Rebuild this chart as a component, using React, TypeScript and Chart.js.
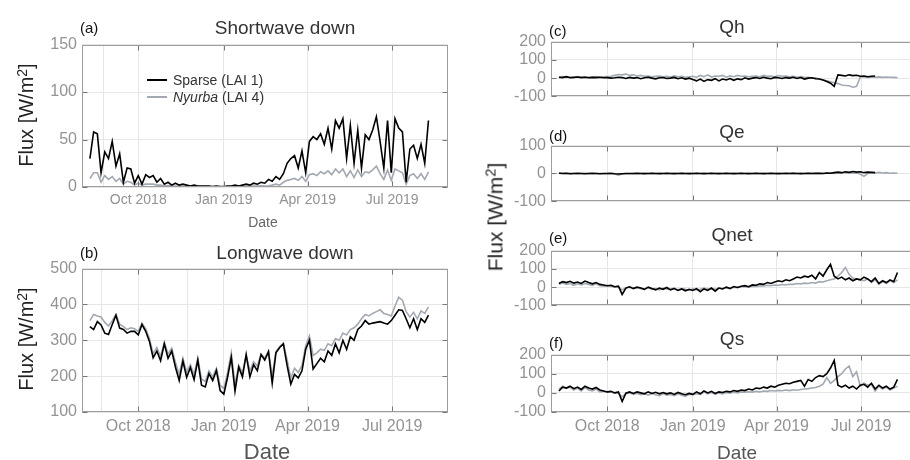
import React, { useEffect, useRef } from "react";
import { Chart, registerables } from "chart.js";
Chart.register(...registerables);

const FONT = "'Liberation Sans', Arial, Helvetica, sans-serif";

// x values: days since 2018-08-01, one value every DAY_STEP days
const FIRST_DAY = 9;
const DAY_STEP = 4;
const TICK_DAYS = [61, 153, 243, 334];
const TICK_LABELS = ["Oct 2018", "Jan 2019", "Apr 2019", "Jul 2019"];

const SW_SPARSE = [
  30, 58, 56, 15, 37, 30, 48, 22, 35, 5,
  20, 19, 4, 12, 3, 13, 10, 12, 5, 9,
  3, 5, 2, 4, 2, 3, 2, 1, 2, 1,
  1, 1, 1, 0.5, 1, 0.5, 0.5, 1, 1, 2,
  1, 2, 3, 2, 4, 3, 5, 4, 8, 6,
  11, 8, 14, 25, 30, 33, 20, 38, 15, 48,
  53, 50, 56, 45, 62, 40, 70, 62, 72, 30,
  65, 25, 60, 20, 55, 50, 60, 74, 48, 20,
  70, 15, 72, 62, 58, 5, 40, 44, 30, 45,
  25, 70,
];
const SW_NYURBA = [
  9, 15, 15, 5, 12, 8, 11, 6, 9, 3,
  6, 5, 2, 4, 2, 3, 3, 3, 2, 2,
  1, 1.5, 1, 1, 0.8, 0.8, 0.6, 0.5, 0.5, 0.5,
  0.4, 0.4, 0.3, 0.3, 0.3, 0.3, 0.3, 0.3, 0.4, 0.5,
  0.5, 0.6, 0.8, 0.8, 1, 1, 1.2, 1, 1, 2,
  3, 2, 5, 7, 8, 9, 7, 11, 6, 13,
  14, 12, 16, 14, 17, 13, 19, 15, 19, 11,
  17, 10, 18, 11, 16, 15, 18, 22, 14, 8,
  18, 7, 19, 17, 15, 3, 12, 14, 9, 14,
  8, 16,
];
const LW_SPARSE = [
  338, 330, 352, 343, 320, 316, 344, 370, 334, 330,
  320, 325, 325, 315, 344, 325, 297, 251, 270, 243,
  290, 250, 270, 225, 188, 242, 197, 224, 190, 245,
  175, 170, 207, 188, 216, 160, 150, 197, 252, 158,
  225, 198, 260, 198, 232, 215, 260, 245, 268, 180,
  265, 280, 290, 230, 178, 205, 195, 215, 275, 300,
  220, 235, 250, 240, 270, 258, 290, 265, 300, 275,
  310, 300, 330, 340, 355, 345, 348, 350, 352, 348,
  345, 355, 370, 385, 383, 360, 335, 360, 330, 360,
  350, 370,
];
const LW_NYURBA = [
  355, 372, 368, 365, 350, 340, 355, 372, 345, 338,
  330, 335, 332, 325, 348, 332, 305, 262, 280, 255,
  295, 262, 278, 238, 205, 250, 212, 232, 205, 250,
  192, 185, 215, 198, 222, 175, 165, 210, 265, 178,
  230, 210, 258, 215, 240, 228, 262, 250, 270, 200,
  268, 282, 292, 245, 195, 222, 210, 230, 285, 312,
  258, 265, 275, 272, 290, 285, 305, 300, 320, 315,
  330, 335, 345, 360, 372, 368, 375, 380, 385, 375,
  372, 368, 395, 420, 412, 380, 365, 378, 360, 382,
  375, 393,
];
const QH_SPARSE = [
  5, 3, 8, 2, 4, 6, 3, 5, 2, 4,
  3, 5, 2, 3, 0, 2, 5, 3, -2, 4,
  0, 3, -3, 2, 5, 0, -4, 2, 3, -2,
  0, 4, -3, 2, -5, 0, -8, -15, -5, -18,
  -8, -12, -3, -15, -5, -10, -2, -12, -4, -8,
  2, -5, 0, 3, -2, 5, 0, -3, 4, 2,
  -2, 3, 0, 5, -2, 3, -5, 0, 2, -3,
  -5, -10, -18, -28, -45, 18, 15, 12, 18, 14,
  16, 10, 12, 8, 10, 12, null, null, null, null,
  null, null,
];
const QH_NYURBA = [
  5, 8, 4, 6, 3, 8, 5, 7, 4, 6,
  8, 5, 7, 8, 10, 15, 20, 18, 22, 15,
  18, 12, 15, 10, 12, 8, 10, 12, 8, 10,
  6, 12, 8, 10, 5, 8, 10, 5, 15, 8,
  18, 6, 12, 10, 15, 5, 12, 8, 15, 10,
  12, 8, 10, 12, 8, 15, 10, 12, 8, 14,
  10, 12, 8, 10, 5, 8, 3, 5, 0, 2,
  -5, -10, -15, -20, -25, -30, -38, -40, -42, -50,
  -45, 5, 8, 4, 6, 5, 7, 4, 6, 5,
  4, 3,
];
const QE_SPARSE = [
  1, 0, 1, -1, 0, 1, 0, -1, 0, 1,
  0, -1, 0, 0, 1, -1, -2, -1, 0, 0,
  0, 0.5, 0, -0.5, 0, 0.5, 0, -0.5, 0, 0.5,
  0, -0.5, 0, 0.5, 0, -0.5, 0, 0.5, 0, -0.5,
  0, 0.5, 0, -0.5, 0, 0.5, 0, -0.5, 0, 0.5,
  0, -0.5, 0, 0.5, 0, -0.5, 0, 0.5, 0, -0.5,
  0, 0.5, 0, 1, 0, -0.5, 0, 1, 0, 0.5,
  1, 0, 2, 1, 3, 5, 3, 6, 4, 7,
  5, 6, 3, 5, 4, 3, null, null, null, null,
  null, null,
];
const QE_NYURBA = [
  2, 1, 0, 1, 0, -1, 0, 1, 0, -1,
  0, 0, -1, 0, -1, -2, -6, -2, 0, -1,
  0, -0.5, 0, 0.5, 0, -0.5, 0, 0.5, 0, -0.5,
  0, 0.5, 0, -0.5, 0, 0.5, 0, -0.5, 0, 0.5,
  0, -0.5, 0, 0.5, 0, -0.5, 0, 0.5, 0, -0.5,
  0, 0.5, 0, -0.5, 0, 0.5, 0, -0.5, 0, 0.5,
  0, -0.5, 0, 0.5, 0, 1, 0, 0.5, 1, 0,
  1, 0, 1, 2, 0, 2, 1, 3, 2, 1,
  2, -2, -10, 0, 3, 2, 4, 2, 3, 1,
  2, 1,
];
const QNET_SPARSE = [
  20, 30, 25, 32, 22, 28, 20, 33, 25, 18,
  25, 15, 12, 8, 10, 2, 5, -40, -5, 2,
  -8, 0, -5, -12, 0, -8, -15, -5, -12, -2,
  -15, -8, -18, -10, -20, -12, -18, -8, -25, -10,
  -18, -5, -22, -5, -10, 0, -8, 3, -2, 5,
  8, 2, 12, 10, 18, 15, 25, 20, 28, 35,
  30, 40, 35, 45, 55, 50, 60, 55, 65, 45,
  80, 60, 95, 125, 60, 45, 55, 40, 50, 35,
  45, 40, 55, 45, 30, 50, 20, 35, 25, 40,
  30, 80,
];
const QNET_NYURBA = [
  18, 22, 15, 20, 10, 18, 12, 20, 15, 10,
  18, 8, 5, 8, 5, 0, 2, -15, -3, 0,
  -5, -2, -8, -10, -3, -12, -8, -15, -5, -10,
  -12, -5, -15, -8, -12, -18, -10, -15, -12, -5,
  -10, -8, -12, -5, -8, -2, -5, 0, -3, 2,
  3, 0, 5, 4, 8, 6, 10, 8, 12, 10,
  14, 12, 16, 15, 20, 18, 22, 20, 25, 22,
  30, 28, 35, 40, 45, 60, 80, 108, 70, 50,
  45, 40, 35, 45, 25, 40, 15, 30, 20, 35,
  25, 40,
];
const QS_SPARSE = [
  10, 30, 25, 35, 22, 30, 18, 35, 25, 20,
  28, 15, 10, 5, 8, 0, 5, -45, -2, 5,
  -3, 5, 0, -5, 5, -3, 3, -5, 2, -5,
  0, -8, 2, -5, -10, -3, -8, 5, -5, 10,
  0, 8, -3, 5, 2, 8, 5, 12, 8, 15,
  12, 20, 15, 25, 22, 30, 25, 35, 30, 40,
  45, 50, 48, 55, 60, 65, 35, 70, 60, 80,
  90, 85, 100, 130, 170, 40, 30, 40, 25, 35,
  20, 40, 45, 30, 50, 20, 40, 25, 35, 20,
  30, 70,
];
const QS_NYURBA = [
  20, 35, 25, 30, 15, 25, 10, 28, 15, 10,
  20, 5, 8, 3, 5, -2, 0, -20, -5, 0,
  -8, -2, -10, -5, -12, -3, -10, -15, -5, -12,
  -8, -15, -5, -12, -18, -8, -10, -5, -8, 5,
  -5, 2, -8, 0, -5, 2, -2, 3, 0, 5,
  3, 6, 4, 8, 5, 10, 8, 12, 10, 13,
  11, 15, 12, 16, 14, 18, 20, 22, 25, 28,
  35, 45, 80, 50, 65, 85, 100, 125, 140, 85,
  110, 35, 50, 40, 45, 10, 35, 20, 30, 15,
  25, 35,
];

const DAYS = SW_SPARSE.map((_, i) => FIRST_DAY + i * DAY_STEP);

const X_MIN = 0.5;
const X_MAX = 394;
const GRID = "#e6e6e6";
const BOX = "#9d9d9d";
const TICKC = "#777777";
const TICK_TEXT = "#939393";
const BLACK = "#000000";
const GREY = "#a3a9b2";

const boxPlugin = {
  id: "matlabBox",
  beforeDatasetsDraw(chart: any, _a: any, opts: any) {
    const { ctx, chartArea } = chart;
    const { top, bottom } = chartArea;
    const xs = chart.scales.x;
    ctx.save();
    ctx.strokeStyle = GRID;
    ctx.lineWidth = 1;
    (opts.extra || []).forEach((d: number) => {
      const x = Math.round(xs.getPixelForValue(d)) + 0.5;
      ctx.beginPath();
      ctx.moveTo(x, top);
      ctx.lineTo(x, bottom);
      ctx.stroke();
    });
    ctx.restore();
  },
  afterDatasetsDraw(chart: any) {
    const { ctx, chartArea } = chart;
    const l = Math.round(chartArea.left) + 0.5;
    const r = Math.round(chartArea.right) - 0.5;
    const t = Math.round(chartArea.top) + 0.5;
    const b = Math.round(chartArea.bottom) - 0.5;
    ctx.save();
    ctx.lineWidth = 1;
    ctx.strokeStyle = TICKC;
    const xs = chart.scales.x;
    const ys = chart.scales.y;
    ctx.beginPath();
    xs.ticks.forEach((tk: any) => {
      const x = Math.round(xs.getPixelForValue(tk.value)) + 0.5;
      ctx.moveTo(x, b);
      ctx.lineTo(x, b - 5);
      ctx.moveTo(x, t);
      ctx.lineTo(x, t + 5);
    });
    ys.ticks.forEach((tk: any) => {
      const y = Math.round(ys.getPixelForValue(tk.value)) + 0.5;
      ctx.moveTo(l, y);
      ctx.lineTo(l + 5, y);
      ctx.moveTo(r, y);
      ctx.lineTo(r - 5, y);
    });
    ctx.stroke();
    ctx.strokeStyle = BOX;
    ctx.strokeRect(l, t, r - l, b - t);
    ctx.restore();
  },
};

type Spec = {
  left: number;
  top: number;
  height: number;
  xAxisH: number;
  yMin: number;
  yMax: number;
  yTicks: number[];
  xLabels: boolean;
  xFont: number;
  extra: number[];
  black: (number | null)[];
  grey: (number | null)[];
};

const WIDTH = 434;

const PANELS: Spec[] = [
  { left: 22, top: 30, height: 185, xAxisH: 28, yMin: 0, yMax: 150, yTicks: [0, 50, 100, 150], xLabels: true, xFont: 14, extra: [23], black: SW_SPARSE, grey: SW_NYURBA },
  { left: 22, top: 254, height: 186, xAxisH: 28, yMin: 100, yMax: 500, yTicks: [100, 200, 300, 400, 500], xLabels: true, xFont: 16, extra: [21, 113], black: LW_SPARSE, grey: LW_NYURBA },
  { left: 491, top: 27, height: 84, xAxisH: 12, yMin: -100, yMax: 200, yTicks: [-100, 0, 100, 200], xLabels: false, xFont: 16, extra: [], black: QH_SPARSE, grey: QH_NYURBA },
  { left: 491, top: 131, height: 85, xAxisH: 12, yMin: -100, yMax: 100, yTicks: [-100, 0, 100], xLabels: false, xFont: 16, extra: [], black: QE_SPARSE, grey: QE_NYURBA },
  { left: 491, top: 236, height: 84, xAxisH: 12, yMin: -100, yMax: 200, yTicks: [-100, 0, 100, 200], xLabels: false, xFont: 16, extra: [], black: QNET_SPARSE, grey: QNET_NYURBA },
  { left: 491, top: 340, height: 100, xAxisH: 28, yMin: -100, yMax: 200, yTicks: [-100, 0, 100, 200], xLabels: true, xFont: 16, extra: [], black: QS_SPARSE, grey: QS_NYURBA },
];

function pts(arr: (number | null)[]) {
  return DAYS.map((d, i) => ({ x: d, y: arr[i] }));
}

function Panel({ spec }: { spec: Spec }) {
  const ref = useRef<HTMLCanvasElement>(null);
  useEffect(() => {
    const chart = new Chart(ref.current as HTMLCanvasElement, {
      type: "line",
      data: {
        datasets: [
          { label: "Sparse (LAI 1)", data: pts(spec.black) as any, borderColor: BLACK, borderWidth: 1.6, pointRadius: 0, spanGaps: false },
          { label: "Nyurba (LAI 4)", data: pts(spec.grey) as any, borderColor: GREY, borderWidth: 1.6, pointRadius: 0, spanGaps: false },
        ],
      },
      options: {
        responsive: false,
        animation: false,
        devicePixelRatio: 1,
        layout: { padding: { top: 12, right: 8, left: 0, bottom: 0 } },
        plugins: {
          legend: { display: false },
          tooltip: { enabled: false },
          matlabBox: { extra: spec.extra },
        } as any,
        scales: {
          x: {
            type: "linear",
            min: X_MIN,
            max: X_MAX,
            afterBuildTicks: (s: any) => {
              s.ticks = TICK_DAYS.map((v) => ({ value: v }));
            },
            ticks: {
              display: spec.xLabels,
              autoSkip: false,
              maxRotation: 0,
              padding: 5,
              color: TICK_TEXT,
              font: { family: FONT, size: spec.xFont },
              callback: (v: any) => {
                const k = TICK_DAYS.indexOf(Number(v));
                return k >= 0 ? TICK_LABELS[k] : "";
              },
            },
            grid: { color: GRID, drawTicks: false, lineWidth: 1 },
            border: { display: false },
            afterFit: (s: any) => {
              s.height = spec.xAxisH;
            },
          },
          y: {
            min: spec.yMin,
            max: spec.yMax,
            afterBuildTicks: (s: any) => {
              s.ticks = spec.yTicks.map((v) => ({ value: v }));
            },
            ticks: {
              autoSkip: false,
              padding: 5,
              color: TICK_TEXT,
              font: { family: FONT, size: 16 },
              callback: (v: any) => String(v),
            },
            grid: { color: GRID, drawTicks: false, lineWidth: 1 },
            border: { display: false },
            afterFit: (s: any) => {
              s.width = 60;
            },
          },
        },
      } as any,
      plugins: [boxPlugin as any],
    });
    return () => chart.destroy();
  }, [spec]);
  return (
    <canvas
      ref={ref}
      width={WIDTH}
      height={spec.height}
      style={{ position: "absolute", left: spec.left, top: spec.top, width: WIDTH, height: spec.height }}
    />
  );
}

function Txt({ x, y, size, color = "#333", anchor = "center", rotate = false, children }: any) {
  const tr = rotate
    ? "translate(-50%,-50%) rotate(-90deg)"
    : anchor === "left"
    ? "translate(0,-50%)"
    : "translate(-50%,-50%)";
  return (
    <div
      style={{
        position: "absolute",
        left: x,
        top: y,
        transform: tr,
        fontFamily: FONT,
        fontSize: size,
        color,
        lineHeight: 1,
        whiteSpace: "nowrap",
      }}
    >
      {children}
    </div>
  );
}

const FluxLabel = () => (
  <span>
    Flux [W/m<span style={{ fontSize: "0.7em", position: "relative", top: "-0.45em" }}>2</span>]
  </span>
);

export default function App() {
  return (
    <div style={{ position: "fixed", left: 0, top: 0, width: 910, height: 460, overflow: "hidden", background: "#fff" }}>
      {PANELS.map((p, i) => (
        <Panel key={i} spec={p} />
      ))}
      <Txt x={80} y={27} size={15} color="#111" anchor="left">(a)</Txt>
      <Txt x={285} y={27} size={19}>Shortwave down</Txt>
      <div style={{ position: "absolute", left: 147, top: 79, width: 20, height: 2, background: BLACK }} />
      <Txt x={173} y={80} size={14} anchor="left">Sparse (LAI 1)</Txt>
      <div style={{ position: "absolute", left: 147, top: 96, width: 20, height: 2, background: GREY }} />
      <Txt x={173} y={97} size={14} anchor="left"><i>Nyurba</i> (LAI 4)</Txt>
      <Txt x={263} y={222} size={14} color="#666">Date</Txt>
      <Txt x={80} y={252} size={15} color="#111" anchor="left">(b)</Txt>
      <Txt x={285} y={252} size={19}>Longwave down</Txt>
      <Txt x={267} y={452} size={22} color="#555">Date</Txt>
      <Txt x={26} y={115} size={20} color="#222" rotate><FluxLabel /></Txt>
      <Txt x={26} y={339} size={20} color="#222" rotate><FluxLabel /></Txt>

      <Txt x={549} y={30} size={15} color="#111" anchor="left">(c)</Txt>
      <Txt x={732} y={26} size={19}>Qh</Txt>
      <Txt x={549} y={135} size={15} color="#111" anchor="left">(d)</Txt>
      <Txt x={732} y={131} size={19}>Qe</Txt>
      <Txt x={549} y={237} size={15} color="#111" anchor="left">(e)</Txt>
      <Txt x={732} y={234} size={19}>Qnet</Txt>
      <Txt x={549} y={342} size={15} color="#111" anchor="left">(f)</Txt>
      <Txt x={732} y={338} size={19}>Qs</Txt>
      <Txt x={737} y={452} size={19} color="#555">Date</Txt>
      <Txt x={495} y={217} size={21} color="#222" rotate><FluxLabel /></Txt>
    </div>
  );
}
